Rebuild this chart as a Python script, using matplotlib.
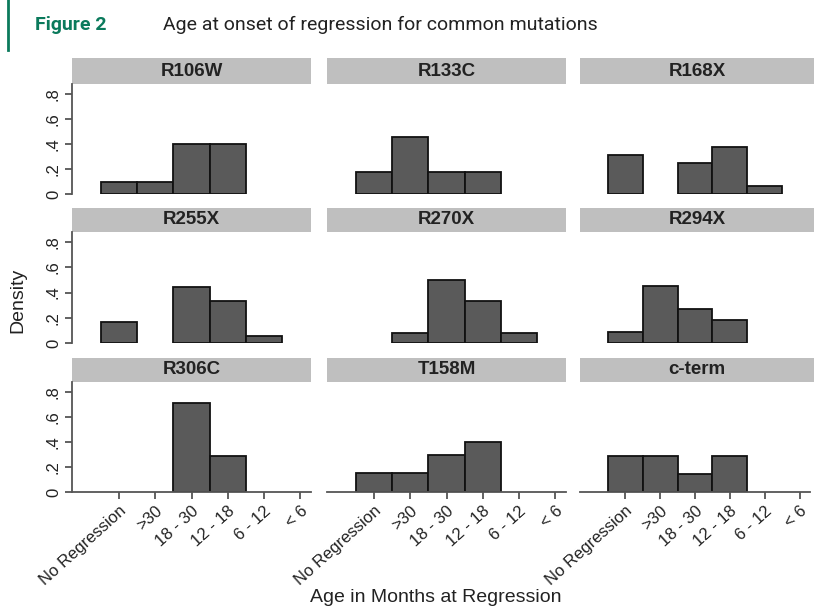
import matplotlib
matplotlib.use("Agg")
import matplotlib.pyplot as plt
import numpy as np

W, H = 814, 608

categories = ["No Regression", ">30", "18 - 30", "12 - 18", "6 - 12", "< 6"]
panels = ["R106W", "R133C", "R168X", "R255X", "R270X", "R294X", "R306C", "T158M", "c-term"]

R106W = [0.10, 0.10, 0.40, 0.40, 0.0, 0.0]
R133C = [0.18, 0.46, 0.18, 0.18, 0.0, 0.0]
R168X = [0.3125, 0.0, 0.25, 0.375, 0.0625, 0.0]
R255X = [0.167, 0.0, 0.444, 0.333, 0.056, 0.0]
R270X = [0.0, 0.083, 0.50, 0.333, 0.083, 0.0]
R294X = [0.091, 0.455, 0.273, 0.182, 0.0, 0.0]
R306C = [0.0, 0.0, 0.714, 0.286, 0.0, 0.0]
T158M = [0.15, 0.15, 0.30, 0.40, 0.0, 0.0]
c_term = [0.286, 0.286, 0.143, 0.286, 0.0, 0.0]
values = [R106W, R133C, R168X, R255X, R270X, R294X, R306C, T158M, c_term]

yticks = [0, 0.2, 0.4, 0.6, 0.8]
yticklabels = ["0", ".2", ".4", ".6", ".8"]

plt.rcParams['font.family'] = ['Liberation Sans', 'DejaVu Sans']

fig = plt.figure(figsize=(W / 100, H / 100), dpi=100)

def frac(x0, y0, x1, y1):
    return [x0 / W, 1 - y1 / H, (x1 - x0) / W, (y1 - y0) / H]

col_x = [(72, 311), (327, 566), (580, 810)]
row_y = [((58, 84), (84, 194)), ((208, 232), (232, 343)), ((358, 382), (382, 492))]

bar_color = "#5a5a5a"
strip_color = "#bfbfbf"
axis_color = "#555555"

x = np.arange(len(categories))
for i, name in enumerate(panels):
    r, c = divmod(i, 3)
    (sy0, sy1), (ay0, ay1) = row_y[r]
    x0, x1 = col_x[c]
    # strip
    sax = fig.add_axes(frac(x0, sy0, 814 if c == 2 else x1, sy1))
    sax.set_facecolor(strip_color)
    for s in sax.spines.values():
        s.set_visible(False)
    sax.set_xticks([]); sax.set_yticks([])
    sax.text(0.5, 0.5, name, ha="center", va="center", fontsize=13.5,
             fontweight="bold", color="#222222", transform=sax.transAxes)
    ax = fig.add_axes(frac(x0, ay0, x1, ay1))
    vals = np.array(values[i])
    mask = vals > 0
    ax.bar(x[mask], vals[mask], width=1.0, color=bar_color, edgecolor="#111111", linewidth=1.3)
    ax.set_xlim(-1.3, 5.3)
    ax.set_ylim(0, 0.88)
    ax.spines["top"].set_visible(False)
    ax.spines["right"].set_visible(False)
    ax.set_facecolor("none")
    if c == 0:
        ax.spines["left"].set_color(axis_color)
        ax.spines["left"].set_linewidth(1.3)
        ax.set_yticks(yticks)
        ax.set_yticklabels(yticklabels, rotation=90, va="center", fontsize=12, color="#222222")
        ax.tick_params(axis="y", length=5, width=1.3, color=axis_color, pad=3)
    else:
        ax.spines["left"].set_visible(False)
        ax.set_yticks([])
    if r == 2:
        ax.spines["bottom"].set_color(axis_color)
        ax.spines["bottom"].set_linewidth(1.3)
        ax.set_xticks(x)
        ax.set_xticklabels(categories, rotation=42, ha="right", rotation_mode="anchor",
                           fontsize=12, color="#222222")
        ax.tick_params(axis="x", length=5, width=1.3, color=axis_color, pad=3)
    else:
        ax.spines["bottom"].set_visible(False)
        ax.set_xticks([])

fig.text(18 / W, 1 - 300 / H, "Density", rotation=90, ha="center", va="center",
         fontsize=14, color="#222222")
fig.text(436 / W, 1 - 597 / H, "Age in Months at Regression", ha="center", va="center",
         fontsize=14, color="#222222")

# header
fig.add_artist(plt.Line2D([8 / W, 8 / W], [1, 1 - 50 / H], color="#0b7a5c", linewidth=2))
fig.text(35 / W, 1 - 25 / H, "Figure 2", ha="left", va="center", fontsize=14,
         fontweight="bold", color="#0b7a5c", family="Roboto")
fig.text(163 / W, 1 - 25 / H, "Age at onset of regression for common mutations", ha="left",
         va="center", fontsize=14, color="#222222", family="Roboto")

fig.savefig("out.png", dpi=100)
